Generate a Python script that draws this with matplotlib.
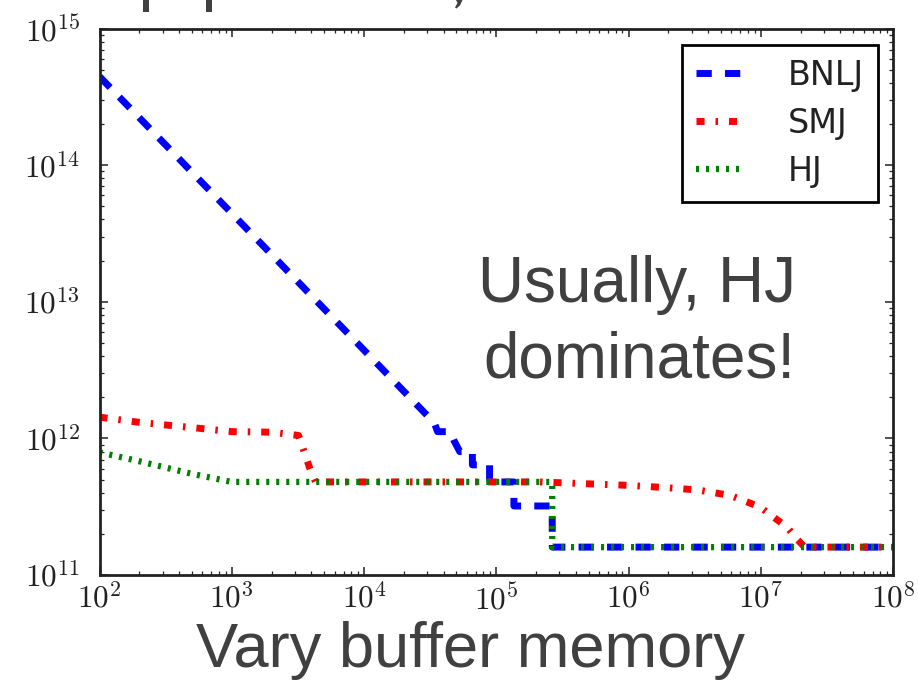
import numpy as np
import matplotlib
matplotlib.use('Agg')
import matplotlib.pyplot as plt
from matplotlib.patches import Rectangle, Polygon
from matplotlib.ticker import FixedLocator, FuncFormatter, LogLocator, NullFormatter

# ---------------- data ----------------
bnlj_x = [1e2, 3.4e4, 3.6e4, 4.5e4, 4.8e4, 5.3e4, 6.6e4, 6.6e4, 8.9e4, 8.9e4,
          1.36e5, 1.36e5, 2.65e5, 2.65e5, 1e8]
bnlj_y = [4.45e14, 1.30e12, 1.12e12, 1.12e12, 9.6e11, 8.0e11, 8.0e11, 6.4e11,
          6.4e11, 4.8e11, 4.8e11, 3.2e11, 3.2e11, 1.6e11, 1.6e11]

smj_x = [1e2, 2e2, 5e2, 1e3, 2e3, 3.2e3, 3.9e3, 4.3e3, 2.1e5, 1e6, 1.83e6,
         3.3e6, 5.9e6, 9.9e6, 1.58e7, 1.9e7, 2.15e7, 1e8]
smj_y = [1.43e12, 1.31e12, 1.2e12, 1.12e12, 1.11e12, 1.05e12, 6.0e11, 4.8e11,
         4.8e11, 4.53e11, 4.37e11, 4.2e11, 3.82e11, 3.14e11, 2.24e11, 1.81e11,
         1.6e11, 1.6e11]

hj_x = [1e2, 2e2, 5e2, 1e3, 2.65e5, 2.65e5, 1e8]
hj_y = [7.9e11, 6.8e11, 5.5e11, 4.8e11, 4.8e11, 1.6e11, 1.6e11]

series_labels = ['BNLJ', 'SMJ', 'HJ']
x_decades = [2, 3, 4, 5, 6, 7, 8]
y_decades = [11, 12, 13, 14, 15]

# ---------------- figure ----------------
W, H = 919, 681
plt.rcParams['mathtext.fontset'] = 'cm'
plt.rcParams['lines.scale_dashes'] = False

fig = plt.figure(figsize=(W / 100, H / 100), dpi=100)
fig.patch.set_facecolor('white')

L, R, T, B = 99.5, 893.0, 28.5, 575.0
ax = fig.add_axes([L / W, 1 - B / H, (R - L) / W, (B - T) / H])

ax.plot(bnlj_x, bnlj_y, color='#0000ff', lw=5, dashes=(11, 9.5),
        dash_capstyle='butt', label=series_labels[0])
ax.plot(smj_x, smj_y, color='#ff0000', lw=5, dashes=(5.8, 7.9, 1.8, 7.9),
        dash_capstyle='butt', label=series_labels[1])
ax.plot(hj_x, hj_y, color='#008000', lw=4.5, dashes=(2.2, 5.0),
        dash_capstyle='butt', label=series_labels[2])

ax.set_xscale('log')
ax.set_yscale('log')
ax.set_xlim(1e2, 1e8)
ax.set_ylim(1e11, 1e15)

fmt = FuncFormatter(lambda v, p: r'$10^{%d}$' % int(round(np.log10(v))))
ax.xaxis.set_major_locator(FixedLocator([10.0 ** d for d in x_decades]))
ax.yaxis.set_major_locator(FixedLocator([10.0 ** d for d in y_decades]))
ax.xaxis.set_major_formatter(fmt)
ax.yaxis.set_major_formatter(fmt)
ax.xaxis.set_minor_locator(LogLocator(base=10, subs=np.arange(2, 10), numticks=50))
ax.yaxis.set_minor_locator(LogLocator(base=10, subs=np.arange(2, 10), numticks=50))
ax.xaxis.set_minor_formatter(NullFormatter())
ax.yaxis.set_minor_formatter(NullFormatter())

ax.tick_params(which='both', direction='in', top=True, right=True, colors='#222222')
ax.tick_params(which='major', length=6, width=1.1, labelsize=22.5)
ax.tick_params(which='minor', length=3, width=0.9)
ax.tick_params(axis='x', which='major', pad=6)
ax.tick_params(axis='y', which='major', pad=14)
for s in ax.spines.values():
    s.set_linewidth(2.0)
    s.set_color('#222222')

leg = ax.legend(loc='upper right',
                bbox_to_anchor=((878 - L) / (R - L), (B - 45) / (B - T)),
                borderaxespad=0, fontsize=24, fancybox=False, framealpha=1,
                edgecolor='black', handlelength=1.3, handletextpad=1.45,
                labelspacing=0.45, borderpad=0.42)
leg.get_frame().set_linewidth(2.0)
for t in leg.get_texts():
    t.set_color('#222222')

# ---------------- slide text ----------------
txt_color = '#404040'
slide_font = 'Liberation Sans'
fig.text(478 / W, 1 - 302 / H, 'Usually, HJ', fontsize=46, family=slide_font,
         color=txt_color, ha='left', va='baseline')
fig.text(483 / W, 1 - 378 / H, 'dominates!', fontsize=46, family=slide_font,
         color=txt_color, ha='left', va='baseline')
fig.text(470 / W, 1 - 667 / H, 'Vary buffer memory', fontsize=45.5,
         family=slide_font, color=txt_color, ha='center', va='baseline')

# cut-off fragments of the slide line above the chart (only descender stubs visible)
for px0 in (143, 206):
    fig.add_artist(Rectangle((px0 / W, 1 - 12 / H), 5.5 / W, 12 / H,
                             transform=fig.transFigure, color=txt_color, lw=0))
comma_px = [(456, 0), (462.5, 0), (460, 5.5), (456.5, 8.5), (455, 7.5), (457.5, 3)]
fig.add_artist(Polygon([(x / W, 1 - y / H) for x, y in comma_px], closed=True,
                       transform=fig.transFigure, color=txt_color, lw=0))

fig.savefig('out.png', dpi=100, facecolor='white')
